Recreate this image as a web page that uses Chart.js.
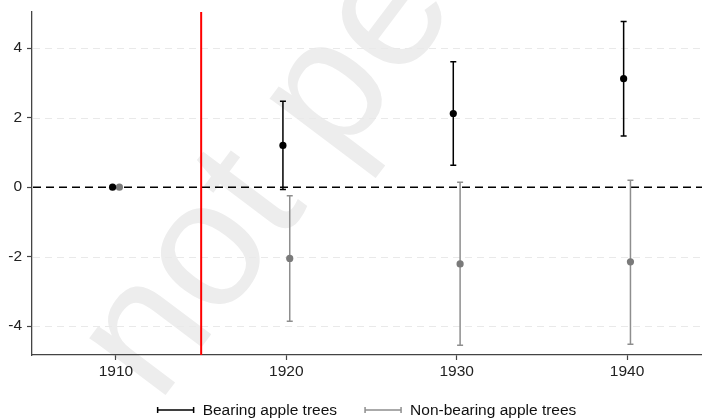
<!DOCTYPE html>
<html>
<head>
<meta charset="utf-8">
<style>
  html, body { margin: 0; padding: 0; background: #fff; }
  #wrap { width: 702px; height: 419px; position: relative; }
</style>
<script src="https://cdn.jsdelivr.net/npm/chart.js@4/dist/chart.umd.min.js"></script>
</head>
<body>
<div id="wrap"><canvas id="c" width="702" height="419"></canvas></div>
<script>
// ---- data ----
const years = [1910, 1920, 1930, 1940];
const bearing = [0, 1.20, 2.12, 3.12];
const bearingLo = [null, -0.07, 0.63, 1.47];
const bearingHi = [null, 2.47, 3.61, 4.77];
const nonBearing = [0, -2.05, -2.21, -2.15];
const nonBearingLo = [null, -3.86, -4.55, -4.52];
const nonBearingHi = [null, -0.25, 0.14, 0.20];
const xTickLabels = [1910, 1920, 1930, 1940];
const yTickLabels = [-4, -2, 0, 2, 4];
const treatmentYear = 1915;
const seriesNames = ['Bearing apple trees', 'Non-bearing apple trees'];

// ---- style ----
const FONT = '"Liberation Sans", Arial, Helvetica, sans-serif';
const FS = 15.5;
const DODGE = 0.2;
const BLACK = '#000000';
const GREY_PT = '#7a7a7a';
const GREY_BAR = '#8e8e8e';
const AXIS = '#444444';

const series = [
  { name: seriesNames[0], est: bearing, lo: bearingLo, hi: bearingHi, dx: -DODGE, pt: BLACK, bar: BLACK },
  { name: seriesNames[1], est: nonBearing, lo: nonBearingLo, hi: nonBearingHi, dx: DODGE, pt: GREY_PT, bar: GREY_BAR }
];

const decorPlugin = {
  id: 'decor',
  beforeDraw(chart) {
    const ctx = chart.ctx;
    ctx.save();
    ctx.setTransform(1, 0, 0, 1, 0, 0);
    ctx.fillStyle = '#fff';
    ctx.fillRect(0, 0, chart.width, chart.height);
    // faint watermark
    const fs = 180;
    ctx.font = fs + 'px ' + FONT;
    ctx.textAlign = 'left';
    ctx.textBaseline = 'alphabetic';
    const nW = ctx.measureText('n').width;
    const oW = ctx.measureText('o').width;
    const xH = 0.519 * fs;
    ctx.translate(211, 257);
    ctx.rotate(-53 * Math.PI / 180);
    ctx.fillStyle = '#ededed';
    ctx.fillText('not peer reviewed', -(nW + oW / 2), xH / 2);
    ctx.restore();
  },
  beforeDatasetsDraw(chart) {
    const ctx = chart.ctx;
    const xs = chart.scales.x, ys = chart.scales.y;
    const a = chart.chartArea;
    ctx.save();
    // light dashed gridlines
    ctx.lineWidth = 1;
    ctx.strokeStyle = '#e9e9e9';
    ctx.setLineDash([7, 5]);
    yTickLabels.forEach(v => {
      if (v === 0) return;
      const y = Math.round(ys.getPixelForValue(v)) + 0.5;
      ctx.beginPath(); ctx.moveTo(a.left + 1, y); ctx.lineTo(a.right, y); ctx.stroke();
    });
    // zero reference line
    ctx.strokeStyle = '#000';
    ctx.lineWidth = 1.5;
    ctx.setLineDash([8, 5]);
    const y0 = ys.getPixelForValue(0);
    ctx.beginPath(); ctx.moveTo(a.left + 1, y0); ctx.lineTo(a.right, y0); ctx.stroke();
    ctx.setLineDash([]);
    // treatment line
    ctx.strokeStyle = '#ff0000';
    ctx.lineWidth = 2;
    const xr = xs.getPixelForValue(treatmentYear);
    ctx.beginPath(); ctx.moveTo(xr, a.top); ctx.lineTo(xr, a.bottom); ctx.stroke();
    // error bars
    series.forEach(s => {
      ctx.strokeStyle = s.bar;
      ctx.lineWidth = 1.5;
      years.forEach((yr, i) => {
        if (s.lo[i] === null) return;
        const x = xs.getPixelForValue(yr + s.dx);
        const yl = ys.getPixelForValue(s.lo[i]);
        const yh = ys.getPixelForValue(s.hi[i]);
        ctx.beginPath();
        ctx.moveTo(x, yl); ctx.lineTo(x, yh);
        ctx.moveTo(x - 3, yl); ctx.lineTo(x + 3, yl);
        ctx.moveTo(x - 3, yh); ctx.lineTo(x + 3, yh);
        ctx.stroke();
      });
    });
    ctx.restore();
  },
  afterDraw(chart) {
    // legend
    const ctx = chart.ctx;
    const a = chart.chartArea;
    ctx.save();
    ctx.font = FS + 'px ' + FONT;
    ctx.textAlign = 'left';
    ctx.textBaseline = 'middle';
    const SYM = 36, GAP = 9, ITEM_GAP = 28;
    const widths = series.map(s => ctx.measureText(s.name).width);
    const total = series.length * (SYM + GAP) + widths.reduce((p, c) => p + c, 0) + ITEM_GAP * (series.length - 1);
    let x = (a.left + a.right) / 2 - total / 2;
    const y = 410;
    series.forEach((s, i) => {
      ctx.strokeStyle = s.bar;
      ctx.lineWidth = 1.5;
      ctx.beginPath();
      ctx.moveTo(x, y); ctx.lineTo(x + SYM, y);
      ctx.moveTo(x, y - 3); ctx.lineTo(x, y + 3);
      ctx.moveTo(x + SYM, y - 3); ctx.lineTo(x + SYM, y + 3);
      ctx.stroke();
      ctx.fillStyle = '#111';
      ctx.fillText(s.name, x + SYM + GAP, y + 0.5);
      x += SYM + GAP + widths[i] + ITEM_GAP;
    });
    ctx.restore();
  }
};

const datasets = series.map(s => ({
  label: s.name,
  data: years.map((yr, i) => ({ x: yr + s.dx, y: s.est[i] })),
  backgroundColor: s.pt,
  borderColor: s.pt,
  borderWidth: 0,
  pointRadius: 3.6,
  showLine: false,
  clip: false
}));

new Chart(document.getElementById('c'), {
  type: 'scatter',
  data: { datasets },
  plugins: [decorPlugin],
  options: {
    responsive: false,
    animation: false,
    devicePixelRatio: 1,
    layout: { autoPadding: false, padding: { top: 12, bottom: 34, left: 0, right: 0 } },
    plugins: { legend: { display: false }, tooltip: { enabled: false } },
    scales: {
      x: {
        type: 'linear',
        min: 1905.07,
        max: 1944.4,
        afterBuildTicks: s => { s.ticks = xTickLabels.map(v => ({ value: v })); },
        afterFit: s => { s.height = 30; s.paddingLeft = 0; s.paddingRight = 0; },
        ticks: { callback: v => String(v), color: '#222', font: { family: FONT, size: FS }, padding: 2, maxRotation: 0, autoSkip: false },
        grid: { drawOnChartArea: false, drawTicks: true, tickLength: 5, tickColor: AXIS, tickWidth: 1.2 },
        border: { color: AXIS, width: 1.3 }
      },
      y: {
        type: 'linear',
        min: -4.83,
        max: 5.04,
        afterBuildTicks: s => { s.ticks = yTickLabels.map(v => ({ value: v })); },
        afterFit: s => { s.width = 32; s.paddingTop = 0; s.paddingBottom = 0; },
        ticks: { callback: v => String(v), color: '#222', font: { family: FONT, size: FS }, padding: 5 },
        grid: { drawOnChartArea: false, drawTicks: true, tickLength: 5, tickColor: AXIS, tickWidth: 1.2 },
        border: { color: AXIS, width: 1.3 }
      }
    }
  }
});
</script>
</body>
</html>
